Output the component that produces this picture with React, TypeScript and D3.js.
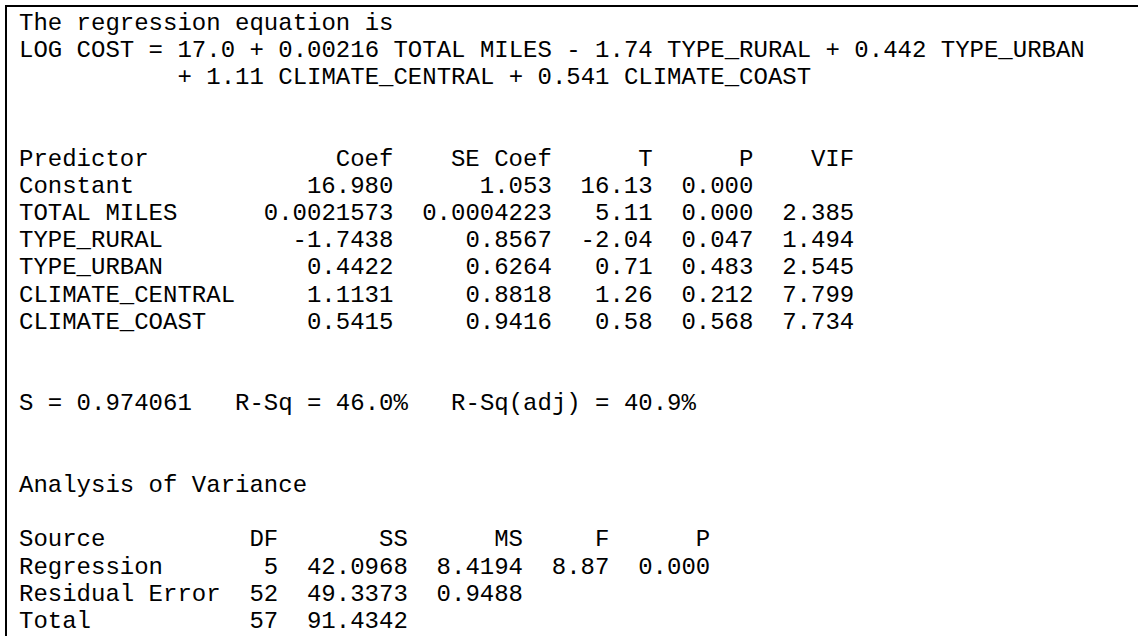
import React from "react";
import * as d3 from "d3";

// regression equation
const response = "LOG COST";
const intercept = "17.0";
const eqSigns = ["+", "-", "+", "+", "+"];
const eqCoefs = ["0.00216", "1.74", "0.442", "1.11", "0.541"];
const eqNames = ["TOTAL MILES", "TYPE_RURAL", "TYPE_URBAN", "CLIMATE_CENTRAL", "CLIMATE_COAST"];

// coefficient table
const coefHeaders = ["Predictor", "Coef", "SE Coef", "T", "P", "VIF"];
const predictors = ["Constant", "TOTAL MILES", "TYPE_RURAL", "TYPE_URBAN", "CLIMATE_CENTRAL", "CLIMATE_COAST"];
const coef = ["16.980", "0.0021573", "-1.7438", "0.4422", "1.1131", "0.5415"];
const seCoef = ["1.053", "0.0004223", "0.8567", "0.6264", "0.8818", "0.9416"];
const tValues = ["16.13", "5.11", "-2.04", "0.71", "1.26", "0.58"];
const pValues = ["0.000", "0.000", "0.047", "0.483", "0.212", "0.568"];
const vifValues = ["", "2.385", "1.494", "2.545", "7.799", "7.734"];

// fit summary
const sValue = "0.974061";
const rSq = "46.0%";
const rSqAdj = "40.9%";

// analysis of variance
const anovaHeaders = ["Source", "DF", "SS", "MS", "F", "P"];
const sources = ["Regression", "Residual Error", "Total"];
const dfValues = ["5", "52", "57"];
const ssValues = ["42.0968", "49.3373", "91.4342"];
const msValues = ["8.4194", "0.9488", ""];
const fValues = ["8.87", "", ""];
const anovaP = ["0.000", "", ""];

export default function App() {
  const width = 1139, height = 636;
  const fontSize = 24, charW = 14.4, lineH = 27.2;

  // character column -> x pixel, line number -> baseline y
  const col = d3.scaleLinear().domain([0, 1]).range([19, 19 + charW]);
  const row = d3.scaleLinear().domain([0, 1]).range([29.5, 29.5 + lineH]);

  // right edges (in characters) of the fixed-width columns
  const coefEnds = [26, 37, 44, 51, 58];
  const anovaEnds = [18, 27, 35, 41, 48];

  const eqLine1 = `${response} = ${intercept}` +
    eqCoefs.slice(0, 3).map((c, i) => ` ${eqSigns[i]} ${c} ${eqNames[i]}`).join("");
  const eqLine2 = " ".repeat(10) +
    eqCoefs.slice(3).map((c, i) => ` ${eqSigns[i + 3]} ${c} ${eqNames[i + 3]}`).join("");

  const txt = (s: string, c: number, r: number, anchor = "start", key?: any) => (
    <text key={key} x={col(c)} y={row(r)} textAnchor={anchor} xmlSpace="preserve"
          style={{ whiteSpace: "pre" }}>{s}</text>
  );

  const coefCols = [coef, seCoef, tValues, pValues, vifValues];
  const anovaCols = [dfValues, ssValues, msValues, fValues, anovaP];

  return (
    <svg width={width} height={height} style={{ position: "absolute", left: 0, top: 0, background: "#fff" }}
         fontFamily="'Liberation Mono', 'Courier New', monospace" fontSize={fontSize} fill="#000">
      <line x1={6} x2={1138} y1={6} y2={6} stroke="#000" strokeWidth={2}/>
      <line x1={6} x2={6} y1={5} y2={height} stroke="#000" strokeWidth={2}/>

      {txt("The regression equation is", 0, 0)}
      {txt(eqLine1, 0, 1)}
      {txt(eqLine2, 0, 2)}

      {txt(coefHeaders[0], 0, 5)}
      {coefHeaders.slice(1).map((h, i) => txt(h, coefEnds[i], 5, "end", "h" + i))}
      {predictors.map((p, r) => (
        <g key={p}>
          {txt(p, 0, 6 + r)}
          {coefCols.map((c, i) => c[r] ? txt(c[r], coefEnds[i], 6 + r, "end", i) : null)}
        </g>
      ))}

      {txt(`S = ${sValue}   R-Sq = ${rSq}   R-Sq(adj) = ${rSqAdj}`, 0, 14)}

      {txt("Analysis of Variance", 0, 17)}
      {txt(anovaHeaders[0], 0, 19)}
      {anovaHeaders.slice(1).map((h, i) => txt(h, anovaEnds[i], 19, "end", "a" + i))}
      {sources.map((s, r) => (
        <g key={s}>
          {txt(s, 0, 20 + r)}
          {anovaCols.map((c, i) => c[r] ? txt(c[r], anovaEnds[i], 20 + r, "end", i) : null)}
        </g>
      ))}
    </svg>
  );
}
